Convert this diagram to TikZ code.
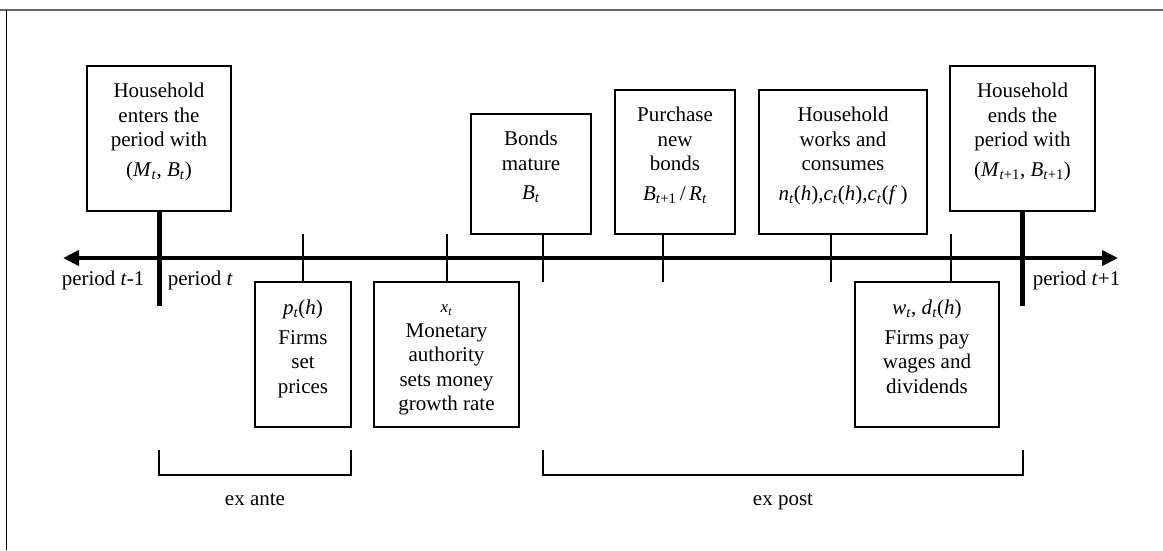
\documentclass[tikz,border=0pt]{standalone}
\usepackage{fontspec}
\setmainfont{Liberation Serif}
\usetikzlibrary{arrows.meta,positioning}
\newcommand{\isub}[2]{\textit{#1}\textsubscript{#2}}

\begin{document}
\begin{tikzpicture}
  [x=1pt,y=-1pt,line width=1.6pt,
   evbox/.style={draw,rectangle,inner sep=0pt},
   evtext/.style={align=center,inner sep=0pt,font=\fontsize{21}{24.5}\selectfont},
   lbl/.style={inner sep=0pt,font=\fontsize{21}{24.5}\selectfont}]
  \useasboundingbox (0,0) rectangle (1163,550);
  % frame
  \draw[line width=2pt,black!60] (0,10) -- (1163,10);
  \draw[line width=1.4pt] (6.5,10) -- (6.5,550);

  % boxes above the time line
  \node[evbox,minimum width=144pt,minimum height=145pt] (enter) at (159,138.5) {};
  \node[evbox,minimum width=120pt,minimum height=120pt] (bonds) at (531,174) {};
  \node[evbox,minimum width=120pt,minimum height=144pt] (buy) at (675,162) {};
  \node[evbox,minimum width=168pt,minimum height=144pt] (work) at (843,162) {};
  \node[evbox,minimum width=145pt,minimum height=145pt] (leave) at (1022.5,138.5) {};
  % boxes below the time line
  \node[evbox,minimum width=96.5pt,minimum height=145pt] (prices) at (303,354.5) {};
  \node[evbox,minimum width=145pt,minimum height=145pt] (money) at (446.5,354.5) {};
  \node[evbox,minimum width=144pt,minimum height=145pt] (pay) at (927,354.5) {};

  \node[evtext,below=17pt of enter.north] (enter-t)
    {Household\\enters the\\period with\\[5pt](\isub{M}{\textit{t}}, \isub{B}{\textit{t}})};
  \node[evtext,below=17pt of bonds.north] (bonds-t)
    {Bonds\\mature\\[5pt]\isub{B}{\textit{t}}};
  \node[evtext,below=17pt of buy.north] (buy-t)
    {Purchase\\new\\bonds\\[5pt]\isub{B}{\textit{t}+1}\,/\,\isub{R}{\textit{t}}};
  \node[evtext,below=17pt of work.north] (work-t)
    {Household\\works and\\consumes\\[5pt]\isub{n}{\textit{t}}(\textit{h}),\isub{c}{\textit{t}}(\textit{h}),\isub{c}{\textit{t}}(\textit{f}\,)};
  \node[evtext,below=17pt of leave.north] (leave-t)
    {Household\\ends the\\period with\\[5pt](\isub{M}{\textit{t}+1}, \isub{B}{\textit{t}+1})};
  \node[evtext,below=18pt of prices.north] (prices-t)
    {\isub{p}{\textit{t}}(\textit{h})\\[5pt]Firms\\set\\prices};
  \node[evtext,below=23pt of money.north] (money-t)
    {{\fontsize{17}{20}\selectfont\isub{x}{\textit{t}}}\\Monetary\\authority\\sets money\\growth rate};
  \node[evtext,below=18pt of pay.north] (pay-t)
    {\isub{w}{\textit{t}}, \isub{d}{\textit{t}}(\textit{h})\\[5pt]Firms pay\\wages and\\dividends};

  % time line
  \coordinate (past) at (63,258);
  \coordinate (future) at (1118,258);
  \draw[line width=4pt,{Triangle[length=16pt,width=15pt]}-{Triangle[length=16pt,width=15pt]}] (past) -- (future);

  % ticks
  \coordinate (bondsTick) at (543,282);
  \coordinate (buyTick) at (663,282);
  \coordinate (workTick) at (831,282);
  \coordinate (pricesTick) at (303,234);
  \coordinate (moneyTick) at (447,234);
  \coordinate (payTick) at (951,234);
  \foreach \ev/\tk in {bonds/bondsTick,buy/buyTick,work/workTick}
    \draw (\ev.south -| \tk) -- (\tk);
  \foreach \ev/\tk in {prices/pricesTick,money/moneyTick,pay/payTick}
    \draw (\tk) -- (\ev.north -| \tk);

  % period bounds
  \coordinate (startBar) at (159,306);
  \coordinate (endBar) at (1022.5,306);
  \draw[line width=5pt] (enter.south) -- (startBar);
  \draw[line width=5pt] (leave.south) -- (endBar);

  \node[lbl,anchor=base west] (prevLbl) at (61,285) {period \textit{t}-1};
  \node[lbl,anchor=base west] (curLbl) at (167,285) {period \textit{t}};
  \node[lbl,anchor=base west] (nextLbl) at (1032,285) {period \textit{t}+1};

  % brackets
  \coordinate (anteL) at (159,450);
  \coordinate (anteR) at (351,450);
  \coordinate (postL) at (543,450);
  \coordinate (postR) at (1023,450);
  \draw (anteL) -- ++(0,25) -| (anteR);
  \draw (postL) -- ++(0,25) -| (postR);
  \node[lbl,anchor=base] (ante) at (255,505) {ex ante};
  \node[lbl,anchor=base] (post) at (783,505) {ex post};

\end{tikzpicture}
\end{document}
